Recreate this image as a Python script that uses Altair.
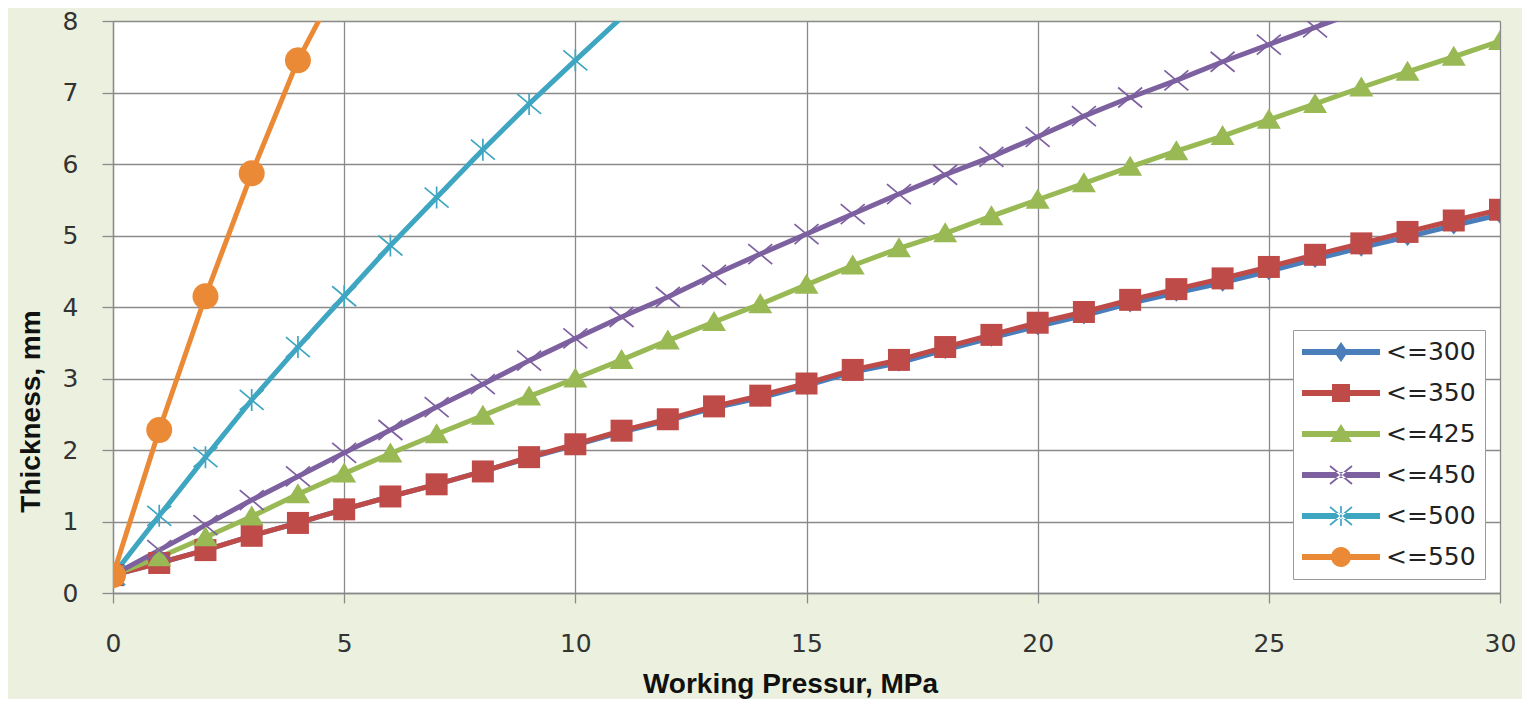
import math
import altair as alt
import pandas as pd

# ---------------- data ----------------
series_names = ["<=300", "<=350", "<=425", "<=450", "<=500", "<=550"]
series_colors = ["#4A7EBB", "#BE4B48", "#98B954", "#7D60A0", "#3FA6C2", "#EB8A36"]

pressure = list(range(31))

t300 = [0.25, 0.42, 0.60, 0.80, 0.98, 1.17, 1.35, 1.52, 1.70, 1.89, 2.07,
        2.25, 2.41, 2.59, 2.73, 2.90, 3.09, 3.22, 3.40, 3.57, 3.73,
        3.88, 4.05, 4.20, 4.34, 4.50, 4.67, 4.83, 4.98, 5.14, 5.29]
t350 = [0.25, 0.42, 0.60, 0.80, 0.98, 1.17, 1.35, 1.52, 1.70, 1.90, 2.08,
        2.27, 2.43, 2.61, 2.76, 2.93, 3.12, 3.26, 3.44, 3.61, 3.78,
        3.93, 4.10, 4.25, 4.40, 4.56, 4.73, 4.89, 5.05, 5.21, 5.36]
t425 = [0.25, 0.50, 0.78, 1.07, 1.38, 1.67, 1.95, 2.22, 2.48, 2.75, 3.00,
        3.26, 3.53, 3.79, 4.04, 4.31, 4.58, 4.82, 5.03, 5.27, 5.50,
        5.73, 5.96, 6.18, 6.39, 6.62, 6.84, 7.07, 7.29, 7.50, 7.72]
t450 = [0.25, 0.60, 0.95, 1.30, 1.63, 1.96, 2.28, 2.60, 2.92, 3.25, 3.56,
        3.86, 4.14, 4.45, 4.74, 5.02, 5.30, 5.58, 5.85, 6.10, 6.38,
        6.67, 6.93, 7.17, 7.43, 7.67, 7.91, 8.15]
t500 = [0.25, 1.08, 1.90, 2.70, 3.44, 4.15, 4.86, 5.53, 6.20, 6.84, 7.45, 8.05]
t550 = [0.25, 2.28, 4.15, 5.87, 7.45, 8.68]

series_values = [t300, t350, t425, t450, t500, t550]

x_ticks = [0, 5, 10, 15, 20, 25, 30]
y_ticks = [0, 1, 2, 3, 4, 5, 6, 7, 8]

rows = []
for name, vals in zip(series_names, series_values):
    for p, v in zip(pressure, vals):
        rows.append({"series": name, "legend_series": name,
                     "pressure": p, "thickness": v})
df = pd.DataFrame(rows)


# ---------------- marker shapes (style only) ----------------
def fmt(v):
    return f"{v:.4f}".rstrip("0").rstrip(".")


def poly(points, s):
    pts = [(fmt(x / s), fmt(y / s)) for x, y in points]
    return "M" + "L".join(f"{a},{b}" for a, b in pts) + "Z"


def seg(x1, y1, x2, y2, t, s):
    dx, dy = x2 - x1, y2 - y1
    ln = math.hypot(dx, dy)
    nx, ny = -dy / ln * t / 2, dx / ln * t / 2
    return poly([(x1 + nx, y1 + ny), (x2 + nx, y2 + ny),
                 (x2 - nx, y2 - ny), (x1 - nx, y1 - ny)], s)


def circle(r, s, n=28):
    return poly([(r * math.cos(2 * math.pi * i / n), r * math.sin(2 * math.pi * i / n))
                 for i in range(n)], s)


def markers(s, diamond, square, tri, xw, xh, xt, rad):
    return [
        poly([(0, -diamond[1]), (diamond[0], 0), (0, diamond[1]), (-diamond[0], 0)], s),
        poly([(-square, -square), (square, -square), (square, square), (-square, square)], s),
        poly([(0, -tri[1]), (tri[0], tri[2]), (-tri[0], tri[2])], s),
        seg(-xw, -xh, xw, xh, xt, s) + seg(-xw, xh, xw, -xh, xt, s),
        seg(-xw, -xh, xw, xh, xt, s) + seg(-xw, xh, xw, -xh, xt, s)
        + seg(0, -xh - 1, 0, xh + 1, xt, s),
        circle(rad, s),
    ]


# plot markers: size 400 -> 10 px per path unit
PLOT_SIZE = 400
plot_scale = math.sqrt(PLOT_SIZE) / 2
plot_paths = markers(plot_scale, (7.5, 9), 11, (12, 11, 9), 12, 10, 1.7, 13)

# legend symbols: 78 px wide line + marker
LEG_SIZE = 78 * 78
leg_scale = math.sqrt(LEG_SIZE) / 2
leg_line = poly([(-39, -3), (39, -3), (39, 3), (-39, 3)], leg_scale)
leg_paths = [leg_line + m for m in
             markers(leg_scale, (7, 10), 9, (11, 10, 8), 11, 9, 1.7, 10)]

# ---------------- chart ----------------
FONT = "DejaVu Sans"
TITLE_FONT = "Liberation Sans, Arial, sans-serif"
GRID = "#8a8a8a"

x_enc = alt.X(
    "pressure:Q",
    scale=alt.Scale(domain=[0, 30], nice=False, zero=True),
    axis=alt.Axis(
        values=x_ticks, grid=True, gridColor=GRID, gridWidth=1.3,
        domainColor=GRID, domainWidth=1.3, tickColor=GRID, tickWidth=1.3,
        tickSize=10, labelFont=FONT, labelFontSize=25, labelColor="#333333",
        labelPadding=28, labelFlush=False, labelOverlap=False,
        title="Working Pressur, MPa", titleFont=TITLE_FONT, titleFontSize=28,
        titleFontWeight="bold", titleColor="#111111",
        titleX=677, titleY=99, titleBaseline="alphabetic", titleAlign="center",
    ),
)
y_enc = alt.Y(
    "thickness:Q",
    scale=alt.Scale(domain=[0, 8], nice=False, zero=True),
    axis=alt.Axis(
        values=y_ticks, grid=True, gridColor=GRID, gridWidth=1.3,
        domainColor=GRID, domainWidth=1.3, tickColor=GRID, tickWidth=1.3,
        tickSize=11, labelFont=FONT, labelFontSize=25, labelColor="#333333",
        labelPadding=24, labelOverlap=False,
        title="Thickness, mm", titleFont=TITLE_FONT, titleFontSize=28,
        titleFontWeight="bold", titleColor="#111111", titleAngle=270,
        titleX=-74, titleY=390, titleBaseline="alphabetic", titleAlign="center",
    ),
)

color_scale = alt.Scale(domain=series_names, range=series_colors)

lines = alt.Chart(df).mark_line(
    strokeWidth=5, clip=True, strokeCap="round", strokeJoin="round"
).encode(
    x=x_enc, y=y_enc,
    color=alt.Color("series:N", scale=color_scale, legend=None),
    order="pressure:Q",
)

points = alt.Chart(df).transform_filter(
    alt.datum.thickness <= 8
).mark_point(filled=True, size=PLOT_SIZE, opacity=1, clip=True).encode(
    x=x_enc, y=y_enc,
    color=alt.Color("series:N", scale=color_scale, legend=None),
    shape=alt.Shape("series:N",
                    scale=alt.Scale(domain=series_names, range=plot_paths),
                    legend=None),
)

leg = alt.Legend(
    title=None, orient="none", legendX=1180, legendY=309,
    fillColor="white", strokeColor="#9a9a9a",
    padding=9, cornerRadius=0,
    symbolSize=LEG_SIZE, symbolStrokeWidth=0, symbolOpacity=1,
    clipHeight=26,
    labelFont=FONT, labelFontSize=25, labelColor="#222222",
    labelOffset=6, rowPadding=15, labelLimit=0,
)

legend_layer = alt.Chart(df).mark_point(filled=True, opacity=0, clip=True).encode(
    x=x_enc, y=y_enc,
    color=alt.Color("legend_series:N",
                    scale=alt.Scale(domain=series_names, range=series_colors),
                    legend=leg),
    shape=alt.Shape("legend_series:N",
                    scale=alt.Scale(domain=series_names, range=leg_paths),
                    legend=leg),
)

chart = alt.layer(lines, points, legend_layer).resolve_scale(
    color="independent", shape="independent"
).resolve_legend(
    color="independent", shape="independent"
).properties(
    width=1387, height=572,
    padding={"left": 105, "top": 13, "right": 22, "bottom": 106},
    autosize=alt.AutoSizeParams(type="none"),
    background="#EBF1DE",
).configure_view(fill="white", stroke="transparent")

chart.save("out.html", embed_options={"renderer": "svg", "actions": False})
